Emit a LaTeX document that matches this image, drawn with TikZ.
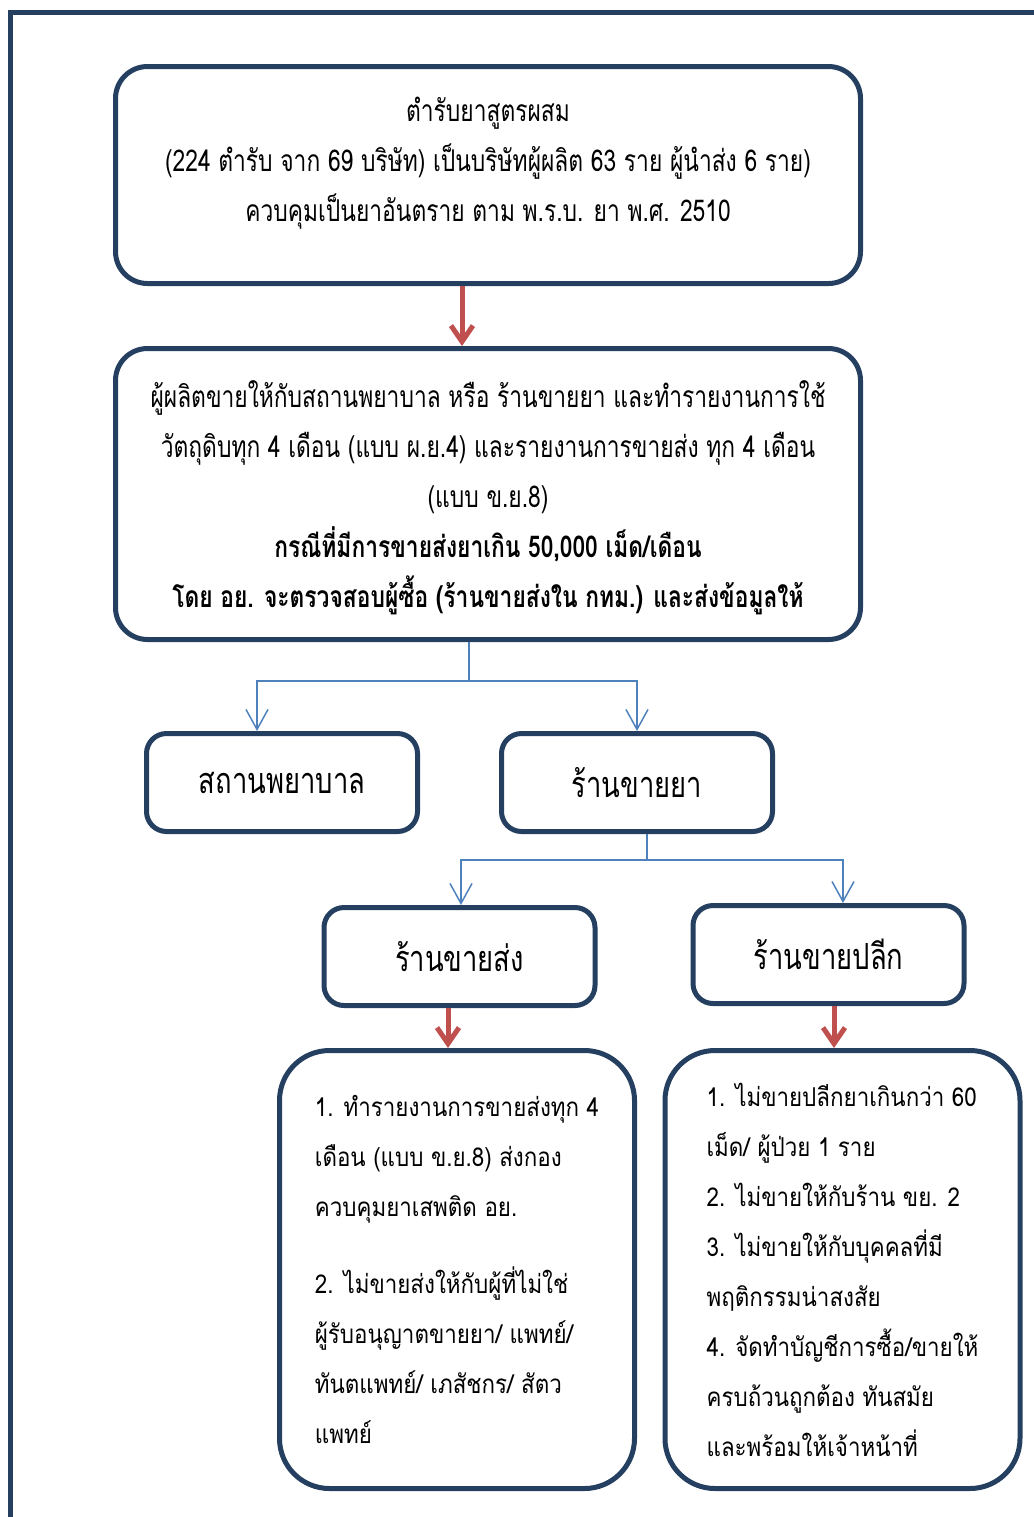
\documentclass[tikz,border=0pt]{standalone}
\usepackage{fontspec}
\usepackage{tikz}
\usetikzlibrary{arrows.meta, positioning, calc}
\newfontfamily\thaifont[Script=Thai, FakeStretch=0.76]{Loma}
\newfontfamily\thaiwide[Script=Thai, FakeStretch=0.86]{Loma}
\definecolor{flownavy}{HTML}{243F60}
\definecolor{flowred}{HTML}{C0504D}
\definecolor{flowblue}{HTML}{4F81BD}

\begin{document}
\begin{tikzpicture}[
      x=0.5pt, y=-0.5pt,
      b/.style={rectangle, draw=flownavy, line width=2.5pt, fill=white, inner sep=0pt, align=center},
      main/.style={b, rounded corners=16pt, minimum width=372.5pt, font=\thaifont\fontsize{15}{25}\selectfont},
      shop/.style={b, rounded corners=10pt, minimum width=135.5pt, minimum height=49pt, font=\thaifont\fontsize{18}{25}\selectfont},
      rule/.style={b, rounded corners=25pt, minimum width=177.5pt, minimum height=219pt, align=left, font=\thaiwide\fontsize{13}{25}\selectfont},
      ered/.style={flowred, line width=2.5pt, -{Straight Barb[length=8pt, width=11pt]}},
      eblue/.style={flowblue, line width=0.75pt, >={Straight Barb[length=10pt, width=11pt]}},
      frame/.style={flownavy, line width=2.5pt}
    ]
      \useasboundingbox (0,0) rectangle (1034,1517);
      \draw[frame] (1034,12.5) -- (10.5,12.5) -- (10.5,1517);

      \node[main, minimum height=108.5pt, text depth=16pt] (1) at (488,175) {ตำรับยาสูตรผสม\\
        (224 ตำรับ จาก 69 บริษัท) เป็นบริษัทผู้ผลิต 63 ราย ผู้นำส่ง 6 ราย)\\
        ควบคุมเป็นยาอันตราย ตาม พ.ร.บ. ยา พ.ศ. 2510};
      \node[main, minimum height=145.5pt, text depth=0pt] (2) at (488,494) {ผู้ผลิตขายให้กับสถานพยาบาล หรือ ร้านขายยา และทำรายงานการใช้\\
        วัตถุดิบทุก 4 เดือน (แบบ ผ.ย.4) และรายงานการขายส่ง ทุก 4 เดือน\\
        (แบบ ข.ย.8)\\
        \textbf{กรณีที่มีการขายส่งยาเกิน 50,000 เม็ด/เดือน}\\
        \textbf{โดย อย. จะตรวจสอบผู้ซื้อ (ร้านขายส่งใน กทม.) และส่งข้อมูลให้}};
      \node[shop] (3) at (282,782.5) {สถานพยาบาล};
      \node[shop] (4) at (637,782.5) {ร้านขายยา};
      \node[shop] (5) at (459.5,956.5) {ร้านขายส่ง};
      \node[shop] (6) at (828.5,954.5) {ร้านขายปลีก};
      \node[rule] (7) at (457,1269.5) {1. ทำรายงานการขายส่งทุก 4\\
        เดือน (แบบ ข.ย.8) ส่งกอง\\
        ควบคุมยาเสพติด อย.\\[13.5pt]
        2. ไม่ขายส่งให้กับผู้ที่ไม่ใช่\\
        ผู้รับอนุญาตขายยา/ แพทย์/\\
        ทันตแพทย์/ เภสัชกร/ สัตว\\
        แพทย์};
      \node[rule] (8) at (842.5,1269.5) {1. ไม่ขายปลีกยาเกินกว่า 60\\
        เม็ด/ ผู้ป่วย 1 ราย\\
        2. ไม่ขายให้กับร้าน ขย. 2\\
        3. ไม่ขายให้กับบุคคลที่มี\\
        พฤติกรรมน่าสงสัย\\
        4. จัดทำบัญชีการซื้อ/ขายให้\\
        ครบถ้วนถูกต้อง ทันสมัย\\
        และพร้อมให้เจ้าหน้าที่};

      \coordinate (s1) at (469,681);
      \coordinate (s2) at (647,860);
      \draw[ered] ([xshift=-13pt]1.south) -- ([xshift=-13pt]2.north);
      \draw[eblue] ([xshift=-9.5pt]2.south) -- (s1);
      \draw[eblue, ->] (s1) -| ([xshift=-12.5pt]3.north);
      \draw[eblue, ->] (s1) -| (4.north);
      \draw[eblue] ([xshift=5pt]4.south) -- (s2);
      \draw[eblue, ->] (s2) -| ([xshift=0.75pt]5.north);
      \draw[eblue, ->] (s2) -| ([xshift=7.25pt]6.north);
      \draw[ered] ([xshift=-5.75pt]5.south) -- ([xshift=-5.75pt]5.south |- 7.north);
      \draw[ered] ([xshift=2.75pt]6.south) -- ([xshift=2.75pt]6.south |- 8.north);
    \end{tikzpicture}
\end{document}
